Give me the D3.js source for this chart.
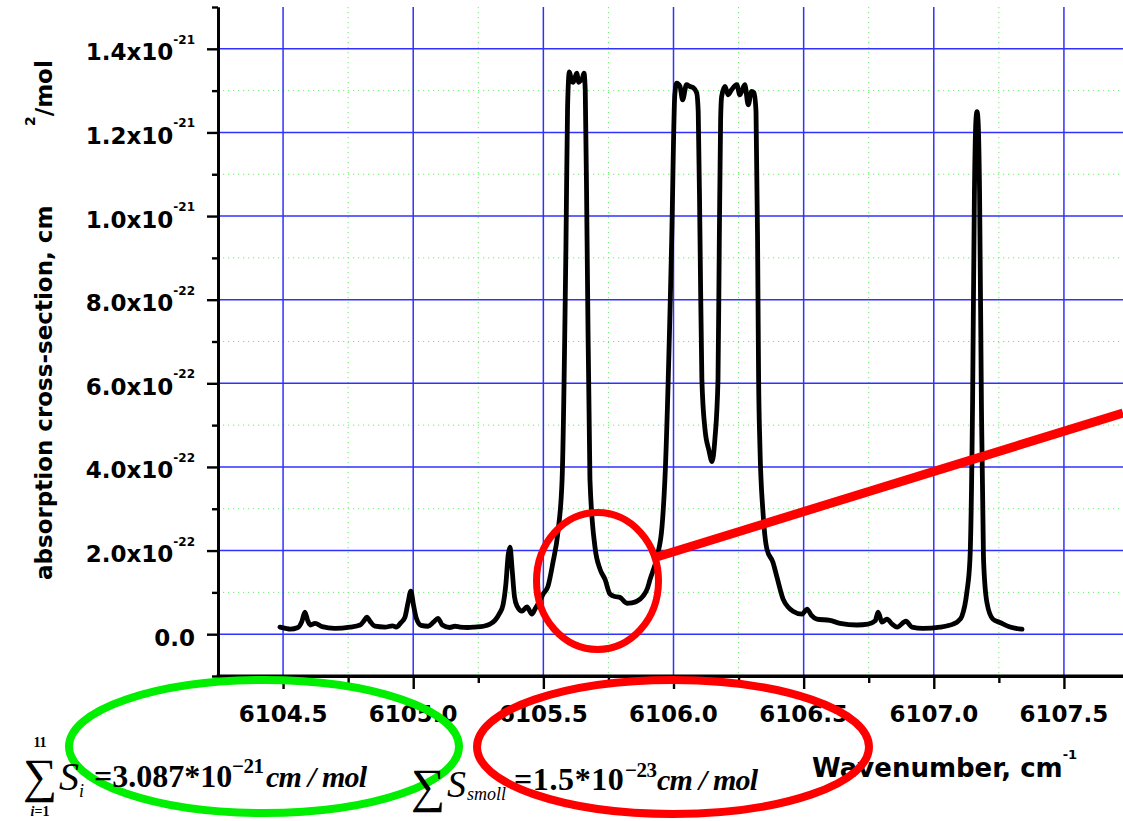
<!DOCTYPE html>
<html>
<head>
<meta charset="utf-8">
<script src="https://cdn.jsdelivr.net/npm/d3@7"></script>
<style>
  html, body { margin: 0; padding: 0; background: #fff; }
  svg { display: block; }
</style>
</head>
<body>
<svg id="chart" width="1123" height="821"></svg>
<script>
// Absorption spectrum: wavenumber (cm^-1) and cross-section (units of 1e-22 cm^2/mol)
const wavenumber = [
  6104.488, 6104.510, 6104.527, 6104.557, 6104.572, 6104.584, 6104.595, 6104.605, 6104.623, 6104.650,
  6104.699, 6104.757, 6104.796, 6104.812, 6104.822, 6104.835, 6104.853, 6104.892, 6104.920, 6104.935,
  6104.952, 6104.968, 6104.980, 6104.991, 6105.001, 6105.012, 6105.030, 6105.057, 6105.080, 6105.095,
  6105.112, 6105.140, 6105.160, 6105.180, 6105.210, 6105.237, 6105.270, 6105.295, 6105.314, 6105.330,
  6105.345, 6105.356, 6105.365, 6105.372, 6105.380, 6105.389, 6105.399, 6105.418, 6105.437, 6105.456,
  6105.468, 6105.488, 6105.499, 6105.518, 6105.537, 6105.556, 6105.572, 6105.587, 6105.593, 6105.600,
  6105.608, 6105.615, 6105.628, 6105.636, 6105.643, 6105.650, 6105.656, 6105.661, 6105.668, 6105.679,
  6105.698, 6105.718, 6105.737, 6105.756, 6105.775, 6105.794, 6105.821, 6105.840, 6105.860, 6105.883,
  6105.900, 6105.910, 6105.937, 6105.956, 6105.967, 6105.993, 6106.005, 6106.012, 6106.025, 6106.035,
  6106.050, 6106.063, 6106.076, 6106.089, 6106.095, 6106.102, 6106.109, 6106.121, 6106.136, 6106.148,
  6106.159, 6106.171, 6106.176, 6106.181, 6106.185, 6106.198, 6106.210, 6106.223, 6106.243, 6106.255,
  6106.274, 6106.287, 6106.300, 6106.309, 6106.317, 6106.323, 6106.327, 6106.332, 6106.344, 6106.359,
  6106.382, 6106.398, 6106.421, 6106.440, 6106.459, 6106.494, 6106.513, 6106.530, 6106.551, 6106.601,
  6106.640, 6106.705, 6106.747, 6106.775, 6106.786, 6106.801, 6106.820, 6106.840, 6106.859, 6106.893,
  6106.916, 6106.958, 6107.024, 6107.074, 6107.095, 6107.108, 6107.127, 6107.139, 6107.149, 6107.156,
  6107.162, 6107.166, 6107.170, 6107.176, 6107.183, 6107.191, 6107.204, 6107.227, 6107.254, 6107.293,
  6107.339
];
const crossSection = [
  0.17, 0.14, 0.12, 0.16, 0.30, 0.53, 0.32, 0.22, 0.26, 0.18,
  0.14, 0.17, 0.22, 0.33, 0.41, 0.30, 0.19, 0.17, 0.20, 0.17,
  0.27, 0.40, 0.75, 1.03, 0.70, 0.38, 0.21, 0.19, 0.30, 0.38,
  0.22, 0.16, 0.19, 0.17, 0.16, 0.17, 0.19, 0.24, 0.33, 0.48,
  0.70, 1.20, 1.90, 2.08, 1.55, 0.90, 0.67, 0.55, 0.65, 0.48,
  0.60, 0.82, 0.96, 1.15, 1.72, 2.44, 3.70, 9.40, 12.6, 13.45,
  13.25, 13.20, 13.42, 13.20, 13.24, 13.30, 13.42, 13.00, 9.40, 3.70,
  2.10, 1.55, 1.31, 0.96, 0.90, 0.88, 0.74, 0.75, 0.79, 0.91,
  1.10, 1.31, 1.86, 2.58, 3.70, 9.40, 12.9, 13.18, 13.10, 12.78,
  13.14, 13.10, 13.07, 12.95, 12.5, 9.40, 6.10, 4.90, 4.40, 4.13,
  4.66, 6.10, 9.40, 12.3, 12.86, 13.10, 12.90, 13.02, 13.14, 12.90,
  13.14, 12.66, 12.98, 12.95, 12.5, 9.40, 6.10, 4.50, 2.90, 2.03,
  1.72, 1.35, 0.84, 0.65, 0.55, 0.48, 0.60, 0.45, 0.36, 0.33,
  0.26, 0.22, 0.24, 0.32, 0.53, 0.29, 0.36, 0.24, 0.17, 0.31,
  0.17, 0.14, 0.17, 0.24, 0.32, 0.43, 1.00, 1.80, 5.50, 10.5,
  12.3, 12.5, 12.3, 10.5, 5.50, 1.80, 0.76, 0.36, 0.28, 0.17,
  0.12
];
const UNIT = 1e-22;

// Axis ticks and labels
const xTicks = [6104.5, 6105.0, 6105.5, 6106.0, 6106.5, 6107.0, 6107.5];
const xTickLabels = ["6104.5", "6105.0", "6105.5", "6106.0", "6106.5", "6107.0", "6107.5"];
const xMinorTicks = [6104.25, 6104.75, 6105.25, 6105.75, 6106.25, 6106.75, 6107.25];
const yTicks = [0, 2e-22, 4e-22, 6e-22, 8e-22, 1.0e-21, 1.2e-21, 1.4e-21];
const yTickMantissa = ["0.0", "2.0x10", "4.0x10", "6.0x10", "8.0x10", "1.0x10", "1.2x10", "1.4x10"];
const yTickExponent = ["", "-22", "-22", "-22", "-22", "-21", "-21", "-21"];
const yMinorTicks = [-1e-22, 1e-22, 3e-22, 5e-22, 7e-22, 9e-22, 1.1e-21, 1.3e-21, 1.5e-21];

const svg = d3.select("#chart");
svg.append("rect").attr("width", 1123).attr("height", 821).attr("fill", "#fff");

const x = d3.scaleLinear().domain([6104.25, 6107.75]).range([218, 1129]);
const y = d3.scaleLinear().domain([-1e-22, 1.5e-21]).range([676, 7]);
const [xL, xR] = [x(6104.25), 1123];
const [yB, yT] = [y(-1e-22), y(1.5e-21)];

const FONT = "'DejaVu Sans', Arial, sans-serif";
const SERIF = "'Liberation Serif', 'Times New Roman', serif";

// Minor grid (dotted green)
const grid = svg.append("g");
grid.selectAll("line.vmin").data(xMinorTicks.slice(1)).join("line")
  .attr("x1", d => x(d)).attr("x2", d => x(d)).attr("y1", yT).attr("y2", yB)
  .attr("stroke", "#66ee66").attr("stroke-width", 1).attr("stroke-dasharray", "1.2,3.8");
grid.selectAll("line.hmin").data(yMinorTicks.filter(d => d > 0 && d < 1.5e-21)).join("line")
  .attr("x1", xL).attr("x2", xR).attr("y1", d => y(d)).attr("y2", d => y(d))
  .attr("stroke", "#66ee66").attr("stroke-width", 1).attr("stroke-dasharray", "1.2,3.8");

// Major grid (solid blue)
grid.selectAll("line.vmaj").data(xTicks).join("line")
  .attr("x1", d => x(d)).attr("x2", d => x(d)).attr("y1", yT).attr("y2", yB)
  .attr("stroke", "#3030ff").attr("stroke-width", 1.5);
grid.selectAll("line.hmaj").data(yTicks).join("line")
  .attr("x1", xL).attr("x2", xR).attr("y1", d => y(d)).attr("y2", d => y(d))
  .attr("stroke", "#3030ff").attr("stroke-width", 1.5);

// Axes
function styleAxis(g) {
  g.selectAll("path.domain").attr("stroke", "#000").attr("stroke-width", 2.8);
  g.selectAll(".tick line").attr("stroke", "#000").attr("stroke-width", 2.4);
}
const yAxisMinor = svg.append("g").attr("transform", `translate(${xL},0)`)
  .call(d3.axisLeft(y).tickValues(yMinorTicks).tickSize(6).tickSizeOuter(0).tickFormat(""));
styleAxis(yAxisMinor);
const yAxis = svg.append("g").attr("transform", `translate(${xL},0)`)
  .call(d3.axisLeft(y).tickValues(yTicks).tickSize(11).tickSizeOuter(0).tickFormat(""));
styleAxis(yAxis);

const xAxisMinor = svg.append("g").attr("transform", `translate(0,${yB})`)
  .call(d3.axisBottom(x).tickValues(xMinorTicks.slice(1)).tickSize(7).tickSizeOuter(0).tickFormat(""));
styleAxis(xAxisMinor);
const xAxis = svg.append("g").attr("transform", `translate(0,${yB})`)
  .call(d3.axisBottom(x).tickValues(xTicks).tickSize(13).tickSizeOuter(0).tickFormat(""));
styleAxis(xAxis);
// bottom axis line running to the right edge
svg.append("line").attr("x1", xL - 1.4).attr("x2", xR).attr("y1", yB).attr("y2", yB)
  .attr("stroke", "#000").attr("stroke-width", 2.8);

// Y tick labels with superscript exponents
yTicks.forEach((t, i) => {
  const txt = svg.append("text")
    .attr("x", 195).attr("y", y(t) + 11.5)
    .attr("text-anchor", "end")
    .attr("font-family", FONT).attr("font-weight", "bold").attr("font-size", 23)
    .attr("fill", "#000");
  txt.append("tspan").text(yTickMantissa[i]);
  if (yTickExponent[i]) {
    txt.append("tspan").attr("dy", -16.5).attr("font-size", 12).text(yTickExponent[i]);
  }
});

// X tick labels
svg.append("g").selectAll("text").data(xTicks).join("text")
  .attr("x", d => x(d)).attr("y", 722)
  .attr("text-anchor", "middle")
  .attr("font-family", FONT).attr("font-weight", "bold").attr("font-size", 23)
  .attr("fill", "#000")
  .text((d, i) => xTickLabels[i]);

// Axis titles
svg.append("text")
  .attr("transform", "translate(52,580) rotate(-90)")
  .attr("font-family", FONT).attr("font-weight", "bold").attr("font-size", 23)
  .attr("fill", "#000")
  .text("absorption cross-section, cm");
const yTitle2 = svg.append("text")
  .attr("transform", "translate(52,126) rotate(-90)")
  .attr("font-family", FONT).attr("font-weight", "bold").attr("font-size", 23)
  .attr("fill", "#000");
yTitle2.append("tspan").attr("font-size", 14).attr("dy", -17).text("2");
yTitle2.append("tspan").attr("dy", 17).text("/mol");

// Spectrum curve
const points = wavenumber.map((w, i) => [w, crossSection[i] * UNIT]);
const line = d3.line().x(d => x(d[0])).y(d => y(d[1])).curve(d3.curveMonotoneX);
svg.append("path").datum(points)
  .attr("d", line)
  .attr("fill", "none").attr("stroke", "#000").attr("stroke-width", 4.8)
  .attr("stroke-linejoin", "round").attr("stroke-linecap", "round");

// X axis title
const xTitle = svg.append("text")
  .attr("x", 812).attr("y", 777)
  .attr("font-family", FONT).attr("font-weight", "bold").attr("font-size", 26)
  .attr("fill", "#000");
xTitle.append("tspan").text("Wavenumber, cm");
xTitle.append("tspan").attr("dy", -18).attr("font-size", 13).text("-1");

// Highlight marks
const ann = svg.append("g").attr("fill", "none");
ann.append("line").attr("x1", 655).attr("y1", 557.5).attr("x2", 1123).attr("y2", 413)
  .attr("stroke", "#ff0000").attr("stroke-width", 9);
ann.append("ellipse").attr("cx", 597.5).attr("cy", 581).attr("rx", 61).attr("ry", 68.5)
  .attr("stroke", "#ff0000").attr("stroke-width", 7);
ann.append("ellipse").attr("cx", 264).attr("cy", 746.5).attr("rx", 195).attr("ry", 66.5)
  .attr("stroke", "#00ee00").attr("stroke-width", 8);
ann.append("ellipse").attr("cx", 673).attr("cy", 747).attr("rx", 196).attr("ry", 67)
  .attr("stroke", "#ff0000").attr("stroke-width", 8);

// Sum formulas
function piece(xp, yp, str, size, opts = {}) {
  return svg.append("text").attr("x", xp).attr("y", yp)
    .attr("font-family", SERIF).attr("font-size", size)
    .attr("font-weight", opts.bold ? "bold" : "normal")
    .attr("font-style", opts.italic ? "italic" : "normal")
    .attr("text-anchor", opts.anchor || "start")
    .attr("letter-spacing", opts.ls || 0)
    .attr("fill", "#000").text(str);
}
// Σ_{i=1}^{11} S_i = 3.087*10^-21 cm/mol
piece(23, 792, "∑", 48);
piece(40, 747, "11", 14, { bold: true, anchor: "middle" });
const low = svg.append("text").attr("x", 40).attr("y", 816).attr("text-anchor", "middle")
  .attr("font-family", SERIF).attr("font-size", 14).attr("font-weight", "bold").attr("fill", "#000");
low.append("tspan").attr("font-style", "italic").text("i");
low.append("tspan").text("=1");
piece(59, 790, "S", 40, { italic: true });
piece(79, 797, "i", 18, { italic: true });
piece(94, 787, "=3.087*10", 32, { bold: true, ls: 0 });
piece(232, 773, "−21", 21, { bold: true, ls: -0.5 });
piece(266, 787, "cm / mol", 30, { bold: true, italic: true, ls: -0.8 });

// Σ S_smoll = 1.5*10^-23 cm/mol
piece(411, 802, "∑", 48);
piece(447, 797, "S", 38, { italic: true });
piece(467, 800, "smoll", 18, { italic: true });
piece(514, 790, "=1.5*10", 32, { bold: true, ls: 0.6 });
piece(625, 777, "−23", 21, { bold: true, ls: -0.5 });
piece(657, 790, "cm / mol", 30, { bold: true, italic: true, ls: -0.8 });
</script>
</body>
</html>
